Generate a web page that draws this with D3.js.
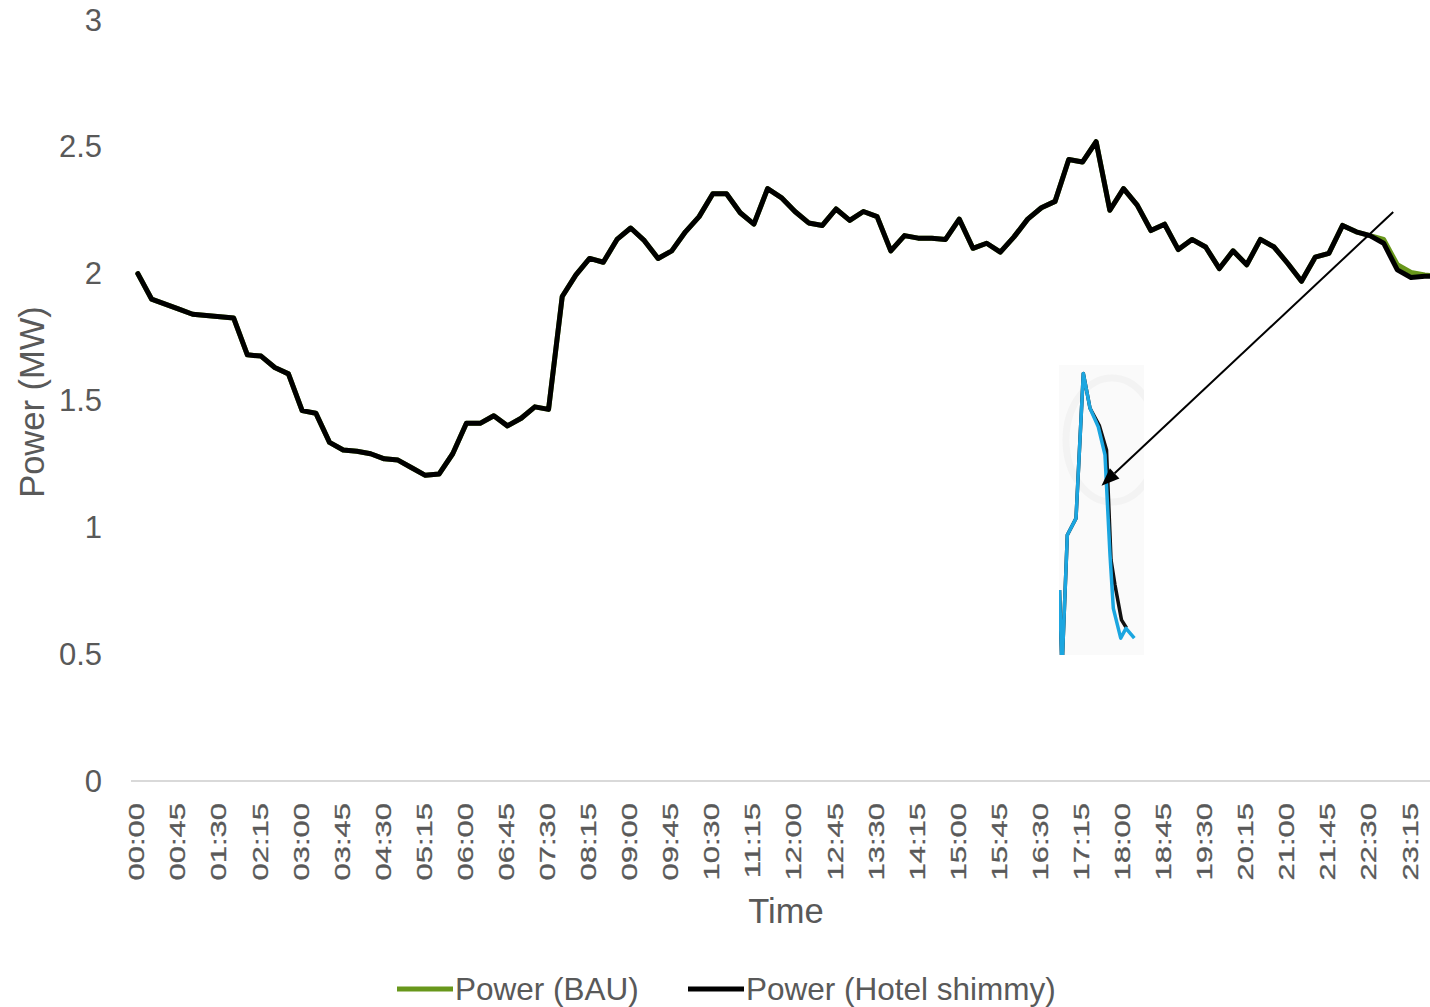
<!DOCTYPE html>
<html>
<head>
<meta charset="utf-8">
<script src="https://cdn.jsdelivr.net/npm/d3@7"></script>
<style>
  html, body { margin: 0; padding: 0; background: #fff; }
  svg { display: block; font-family: "Liberation Sans", Arial, sans-serif; }
</style>
</head>
<body>
<svg id="chart" width="1430" height="1007"></svg>
<script>
// 15-minute time slots over one day
const times = d3.range(96).map(i => {
  const h = Math.floor(i / 4), m = (i % 4) * 15;
  return String(h).padStart(2, "0") + ":" + String(m).padStart(2, "0");
});

// Power with the hotel shimmy applied (MW)
const powerShimmy = [
  2.00, 1.90, 1.88, 1.86, 1.84, 1.835, 1.83, 1.825, 1.68, 1.675, 1.63, 1.605,
  1.46, 1.45, 1.335, 1.305, 1.30, 1.29, 1.27, 1.265, 1.235, 1.205, 1.21, 1.29,
  1.41, 1.41, 1.44, 1.40, 1.43, 1.475, 1.465, 1.91, 1.995, 2.06, 2.045, 2.135,
  2.18, 2.13, 2.06, 2.09, 2.165, 2.225, 2.315, 2.315, 2.24, 2.195, 2.335, 2.30,
  2.245, 2.20, 2.19, 2.255, 2.21, 2.245, 2.225, 2.09, 2.15, 2.14, 2.14, 2.135,
  2.215, 2.10, 2.12, 2.085, 2.145, 2.215, 2.26, 2.285, 2.45, 2.44, 2.52, 2.25,
  2.335, 2.27, 2.17, 2.195, 2.095, 2.135, 2.105, 2.02, 2.09, 2.035, 2.135, 2.105,
  2.04, 1.97, 2.065, 2.08, 2.19, 2.165, 2.15, 2.12, 2.015, 1.985, 1.99, 1.99
];

// Business-as-usual power (MW)
const powerBAU = [
  2.00, 1.90, 1.88, 1.86, 1.84, 1.835, 1.83, 1.825, 1.68, 1.675, 1.63, 1.605,
  1.46, 1.45, 1.335, 1.305, 1.30, 1.29, 1.27, 1.265, 1.235, 1.205, 1.21, 1.29,
  1.41, 1.41, 1.44, 1.40, 1.43, 1.475, 1.465, 1.91, 1.995, 2.06, 2.045, 2.135,
  2.18, 2.13, 2.06, 2.09, 2.165, 2.225, 2.315, 2.315, 2.24, 2.195, 2.335, 2.30,
  2.245, 2.20, 2.19, 2.255, 2.21, 2.245, 2.225, 2.09, 2.15, 2.14, 2.14, 2.135,
  2.215, 2.10, 2.12, 2.085, 2.145, 2.215, 2.26, 2.285, 2.45, 2.44, 2.52, 2.25,
  2.335, 2.27, 2.17, 2.195, 2.095, 2.135, 2.105, 2.02, 2.09, 2.035, 2.135, 2.105,
  2.04, 1.97, 2.065, 2.08, 2.19, 2.165, 2.15, 2.135, 2.035, 2.005, 1.995, 1.99
];

const yTicks = [0, 0.5, 1, 1.5, 2, 2.5, 3];
const seriesNames = ["Power (BAU)", "Power (Hotel shimmy)"];
const seriesColors = ["#68971b", "#000000"];

// Detail snapshot of the evening peak (normalised units)
const detailX = [0.06, 0.35, 0.98, 2.0, 2.86, 3.65, 4.62, 5.41, 6.0, 6.39, 7.26, 7.88, 8.86];
const detailBlue = [0.224, -0.05, 0.414, 0.471, 0.971, 0.851, 0.787, 0.69, 0.345, 0.161, 0.058, 0.092, 0.058];
const detailBlackX = [0.06, 0.35, 0.98, 2.0, 2.86, 3.65, 4.76, 5.59, 6.12, 6.59, 7.35, 7.94];
const detailBlack = [0.224, -0.05, 0.414, 0.471, 0.971, 0.851, 0.79, 0.707, 0.328, 0.241, 0.121, 0.093];

// Arrow: from a point on the main chart (fractional slot, MW) to a point in the detail (normalised)
const arrowFrom = [91.7, 2.243];
const arrowTo = [5.0, 0.584];

const svg = d3.select("#chart");
const grey = "#595959";

const x = d3.scaleBand().domain(times).range([131, 131 + 96 * 13.69]).padding(0);
const y = d3.scaleLinear().domain([0, 3]).range([781, 20]);
const xc = t => x(t) + x.bandwidth() / 2;
const xAt = f => x(times[0]) + x.bandwidth() / 2 + f * x.step();

// x axis baseline
svg.append("line")
  .attr("x1", x.range()[0]).attr("x2", x.range()[1])
  .attr("y1", y(0)).attr("y2", y(0))
  .attr("stroke", "#d9d9d9").attr("stroke-width", 2);

// y tick labels
svg.append("g").selectAll("text").data(yTicks).join("text")
  .attr("x", 102).attr("y", d => y(d))
  .attr("text-anchor", "end").attr("dominant-baseline", "central")
  .attr("font-size", 31).attr("fill", grey)
  .text(d => d);

// x tick labels every 45 minutes
svg.append("g").selectAll("text").data(times.filter((t, i) => i % 3 === 0)).join("text")
  .attr("transform", d => `translate(${xc(d) - 1.5},803) rotate(-90) scale(1,0.74)`)
  .attr("text-anchor", "end").attr("dominant-baseline", "central")
  .attr("font-size", 31).attr("fill", grey)
  .attr("stroke", grey).attr("stroke-width", 0.4)
  .text(d => d);

// axis titles
svg.append("text")
  .attr("transform", "translate(32,402) rotate(-90)")
  .attr("text-anchor", "middle").attr("dominant-baseline", "central")
  .attr("font-size", 34.5).attr("fill", grey).text("Power (MW)");
svg.append("text")
  .attr("x", 786).attr("y", 911)
  .attr("text-anchor", "middle").attr("dominant-baseline", "central")
  .attr("font-size", 34.5).attr("fill", grey).text("Time");

// series lines
const line = d3.line().x((d, i) => xc(times[i])).y(d => y(d));
[powerBAU, powerShimmy].forEach((vals, k) => {
  svg.append("path").datum(vals)
    .attr("d", line)
    .attr("fill", "none")
    .attr("stroke", seriesColors[k])
    .attr("stroke-width", 5)
    .attr("stroke-linejoin", "round")
    .attr("stroke-linecap", "round");
});

// detail snapshot
const dx0 = 1059, dx1 = 1144, dy0 = 365, dy1 = 655;
const ix = d3.scaleLinear().domain([0, 10]).range([dx0, dx0 + 85]);
const iy = d3.scaleLinear().domain([0, 1]).range([dy1, dy1 - 290]);
svg.append("clipPath").attr("id", "detailClip")
  .append("rect").attr("x", dx0).attr("y", dy0).attr("width", dx1 - dx0).attr("height", dy1 - dy0);
const detail = svg.append("g").attr("clip-path", "url(#detailClip)");
detail.append("rect").attr("x", dx0).attr("y", dy0).attr("width", dx1 - dx0).attr("height", dy1 - dy0)
  .attr("fill", "#fafafa");
detail.append("ellipse").attr("cx", 1112).attr("cy", 440).attr("rx", 46).attr("ry", 62)
  .attr("fill", "none").attr("stroke", "#f3f3f3").attr("stroke-width", 7);
const dLine = (xs) => d3.line().x((d, i) => ix(xs[i])).y(d => iy(d));
detail.append("path").datum(detailBlack).attr("d", dLine(detailBlackX))
  .attr("fill", "none").attr("stroke", "#111").attr("stroke-width", 3.5).attr("stroke-linejoin", "round");
detail.append("path").datum(detailBlue).attr("d", dLine(detailX))
  .attr("fill", "none").attr("stroke", "#1ba6e0").attr("stroke-width", 3.5).attr("stroke-linejoin", "round");

// arrow annotation
const ax1 = xAt(arrowFrom[0]), ay1 = y(arrowFrom[1]);
const ax2 = ix(arrowTo[0]), ay2 = iy(arrowTo[1]);
const ang = Math.atan2(ay2 - ay1, ax2 - ax1);
const headLen = 18, headW = 7;
const bx = ax2 - headLen * Math.cos(ang), by = ay2 - headLen * Math.sin(ang);
svg.append("line")
  .attr("x1", ax1).attr("y1", ay1).attr("x2", bx).attr("y2", by)
  .attr("stroke", "#000").attr("stroke-width", 2);
svg.append("path")
  .attr("d", d3.line()([
    [ax2, ay2],
    [bx + headW * Math.sin(ang), by - headW * Math.cos(ang)],
    [bx - headW * Math.sin(ang), by + headW * Math.cos(ang)]
  ]) + "Z")
  .attr("fill", "#000");

// legend
const legendX = [397, 688];
const lg = svg.append("g").selectAll("g").data(seriesNames).join("g");
lg.append("line")
  .attr("x1", (d, i) => legendX[i]).attr("x2", (d, i) => legendX[i] + 56)
  .attr("y1", 989).attr("y2", 989)
  .attr("stroke", (d, i) => seriesColors[i]).attr("stroke-width", 5);
lg.append("text")
  .attr("x", (d, i) => legendX[i] + 58).attr("y", 989)
  .attr("dominant-baseline", "central")
  .attr("font-size", 31.5).attr("fill", grey)
  .text(d => d);
</script>
</body>
</html>
